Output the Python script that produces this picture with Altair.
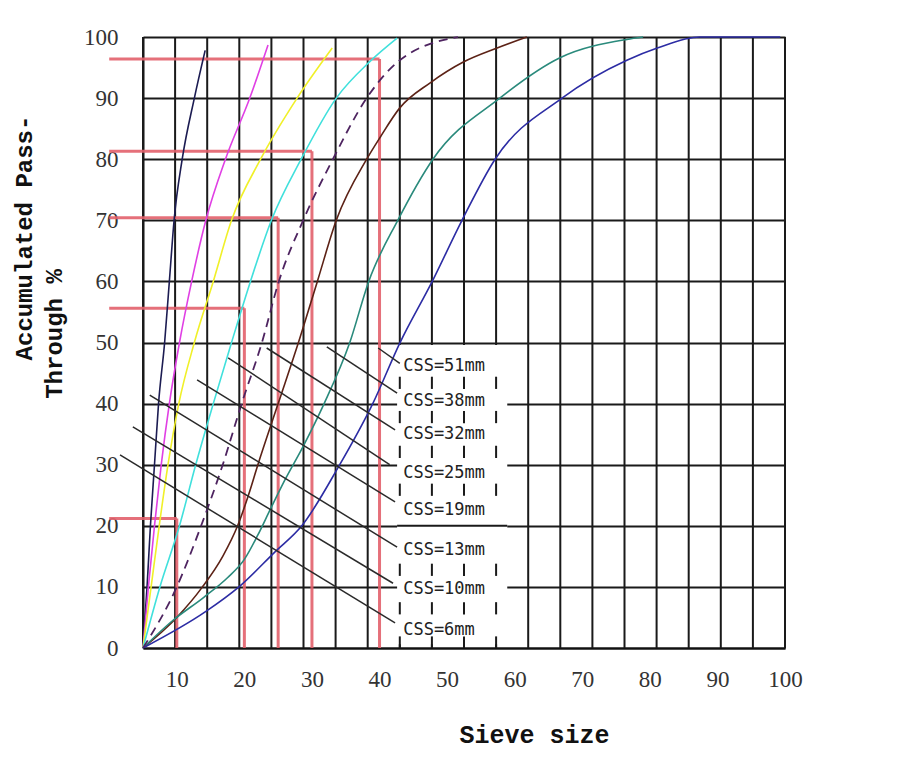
import altair as alt
import pandas as pd

# ---------------- data ----------------
X_TICKS = [10, 20, 30, 40, 50, 60, 70, 80, 90, 100]
Y_TICKS = [0, 10, 20, 30, 40, 50, 60, 70, 80, 90, 100]
GRID_X = [5, 9.75, 14.5, 19.25, 24, 28.75, 33.5, 38.25, 43, 47.75, 52.5,
          57.25, 62, 66.75, 71.5, 76.25, 81, 85.75, 90.5, 95.25, 100]

SERIES = ["CSS=6mm", "CSS=10mm", "CSS=13mm", "CSS=19mm", "CSS=25mm",
          "CSS=32mm", "CSS=38mm", "CSS=51mm"]
COLORS = ["#1c1c52", "#e040e4", "#f0f028", "#40e0dc", "#4e2460",
          "#5c2216", "#2a8a7c", "#2c2ca4"]

CSS6_X = [5, 5.6, 6.1, 6.7, 7.3, 8.2, 8.9, 9.6, 10.8, 12.6, 14.2]
CSS6_Y = [0, 10, 20, 30, 40, 50, 60, 70, 80, 90, 97.8]
CSS10_X = [5, 5.8, 6.7, 7.7, 8.9, 10.4, 12.2, 14.3, 17.2, 20.8, 23.5]
CSS10_Y = [0, 10, 20, 30, 40, 50, 60, 70, 80, 90, 98.7]
CSS13_X = [5, 6.2, 7.4, 8.7, 10.3, 12.6, 15.4, 18.1, 22.4, 27.8, 33.0]
CSS13_Y = [0, 10, 20, 30, 40, 50, 60, 70, 80, 90, 98.2]
CSS19_X = [5, 7.5, 10.4, 12.8, 15.4, 18.1, 20.9, 24.0, 28.4, 33.6, 38.6, 42.6]
CSS19_Y = [0, 10, 20, 30, 40, 50, 60, 70, 80, 90, 96, 99.8]
CSS25_X = [5, 10.0, 13.6, 16.8, 19.6, 22.6, 25.1, 28.7, 33.1, 38.1, 43.0, 51.6]
CSS25_Y = [0, 10, 20, 30, 40, 50, 60, 70, 80, 90, 96.2, 100]
CSS32_X = [5, 10.0, 13.8, 16.8, 19.0, 20.6, 22.0, 25.0, 28.0, 30.8, 33.6,
           38.1, 40.1, 43.0, 47.5, 52.4, 57.4, 61.8]
CSS32_Y = [0, 5, 10, 15, 20, 25, 30, 40, 50, 60, 70,
           80, 83.6, 88.4, 92.5, 95.9, 98.2, 100]
CSS38_X = [5, 9.4, 14.0, 17.5, 20.0, 22.0, 23.8, 26.0, 28.7, 31.8, 35.6,
           38.4, 42.7, 47.9, 57.8, 66.7, 76.6, 79.0]
CSS38_Y = [0, 4.5, 8.3, 11.5, 14.5, 18.5, 22.6, 27.5, 33, 40, 50,
           60, 70, 80, 90, 96.6, 99.6, 100]
CSS51_X = [5, 14.2, 19.2, 24.5, 28.5, 33.9, 39.0, 43.0, 47.8, 52.2, 57.1, 67.0, 76.6, 81.1, 87.4, 99.3]
CSS51_Y = [0, 5.9, 10, 15.7, 20, 29.6, 40, 49.9, 60, 70, 80, 90, 96.2, 98.2, 100, 100]

CURVES_X = [CSS6_X, CSS10_X, CSS13_X, CSS19_X, CSS25_X, CSS32_X, CSS38_X, CSS51_X]
CURVES_Y = [CSS6_Y, CSS10_Y, CSS13_Y, CSS19_Y, CSS25_Y, CSS32_Y, CSS38_Y, CSS51_Y]

# red reference L-lines (sieve size, pass-through)
RED_X = [10, 20, 25, 30, 40]
RED_Y = [21.2, 55.6, 70.4, 81.3, 96.4]

# leader lines of the labels
LEAD_X1 = [39.8, 32.2, 23.3, 17.6, 13.0, 6.0, 3.5, 1.6]
LEAD_Y1 = [49.1, 49.3, 49.1, 47.5, 43.9, 41.4, 36.2, 31.6]
LEAD_X2 = [43.0, 42.6, 42.3, 41.5, 42.3, 42.6, 42.0, 42.3]
LEAD_Y2 = [46.6, 41.7, 35.7, 30.0, 23.9, 16.5, 10.6, 4.1]
LABELS = ["CSS=51mm", "CSS=38mm", "CSS=32mm", "CSS=25mm",
          "CSS=19mm", "CSS=13mm", "CSS=10mm", "CSS=6mm"]
LABEL_X = [43.5] * 8
LABEL_Y = [46.2, 40.5, 35.1, 28.6, 22.6, 16.0, 9.6, 2.9]

BOX_X = [42.6, 58.9]
BOX_Y = [0.6, 49.6]
BOX_GRID_X = [43, 47.75, 52.5, 57.25]
BOX_DASH_Y = [43.4, 37.8, 32.1, 25.9, 12.8, 6.5, 0.9]

Y_TITLE_1 = "Accumulated Pass-"
Y_TITLE_2 = "Through  %"
X_TITLE = "Sieve size"

# ---------------- frames ----------------
rows = []
for name, xs, ys in zip(SERIES, CURVES_X, CURVES_Y):
    for i, (xv, yv) in enumerate(zip(xs, ys)):
        rows.append({"series": name, "x": xv, "y": yv, "i": i})
curves = pd.DataFrame(rows)

dash_rows = []
for gx in BOX_GRID_X:
    for dy in BOX_DASH_Y:
        dash_rows.append({"x": gx, "y0": max(dy - 1.0, 0), "y1": dy + 1.0})
dashes = pd.DataFrame(dash_rows)

xscale = alt.Scale(domain=[5, 100], nice=False, zero=False)
yscale = alt.Scale(domain=[0, 100], nice=False, zero=False)

xaxis = alt.Axis(values=X_TICKS, grid=False, ticks=False, domain=True,
                 domainColor="#111", domainWidth=2, labelFlush=False,
                 labelOverlap=False, labelFont="Liberation Serif",
                 labelFontSize=23, labelColor="#333", labelPadding=20,
                 title=X_TITLE, titleFont="Liberation Mono", titleFontSize=25,
                 titleFontWeight="bold", titleColor="#111", titleX=391, titleY=94,
                 titleAlign="center", titleBaseline="alphabetic")
yaxis = alt.Axis(values=Y_TICKS, grid=True, gridColor="#1a1a1a", gridWidth=2,
                 gridOpacity=1, ticks=False, domain=True, domainColor="#111",
                 domainWidth=2, labelFlush=False, labelFont="Liberation Serif",
                 labelFontSize=23, labelColor="#333", labelPadding=25, title=None)

vgrid = alt.Chart(pd.DataFrame({"x": GRID_X, "y0": [0] * len(GRID_X),
                                "y1": [100] * len(GRID_X)})).mark_rule(
    color="#1a1a1a", strokeWidth=2).encode(
    x=alt.X("x:Q", scale=xscale, axis=xaxis),
    y=alt.Y("y0:Q", scale=yscale, axis=yaxis),
    y2="y1:Q")

box = alt.Chart(pd.DataFrame({"x0": [BOX_X[0]], "x1": [BOX_X[1]],
                              "y0": [BOX_Y[0]], "y1": [BOX_Y[1]]})).mark_rect(
    color="white").encode(x="x0:Q", x2="x1:Q", y="y0:Q", y2="y1:Q")

box_dash = alt.Chart(dashes).mark_rule(color="#1a1a1a", strokeWidth=2).encode(
    x="x:Q", y="y0:Q", y2="y1:Q")

box_line20 = alt.Chart(pd.DataFrame({"x0": [BOX_X[0]], "x1": [BOX_X[1]],
                                     "y": [20]})).mark_rule(
    color="#1a1a1a", strokeWidth=2).encode(x="x0:Q", x2="x1:Q", y="y:Q")

red_h = alt.Chart(pd.DataFrame({"x0": [0] * len(RED_X), "x1": RED_X, "y": RED_Y})).mark_rule(
    color="#e2606c", strokeWidth=3, opacity=0.9).encode(x="x0:Q", x2="x1:Q", y="y:Q")
red_v = alt.Chart(pd.DataFrame({"x": RED_X, "y0": [0] * len(RED_X), "y1": RED_Y})).mark_rule(
    color="#e2606c", strokeWidth=3, opacity=0.9).encode(x="x:Q", y="y0:Q", y2="y1:Q")

color_enc = alt.Color("series:N", scale=alt.Scale(domain=SERIES, range=COLORS), legend=None)

solid_lines = alt.Chart(curves[curves.series != "CSS=25mm"]).mark_line(
    strokeWidth=1.6, interpolate="monotone").encode(
    x="x:Q", y="y:Q", color=color_enc, order="i:Q", detail="series:N")
dashed_line = alt.Chart(curves[curves.series == "CSS=25mm"]).mark_line(
    strokeWidth=1.8, strokeDash=[9, 6], interpolate="monotone").encode(
    x="x:Q", y="y:Q", color=color_enc, order="i:Q")

leaders = alt.Chart(pd.DataFrame({"x1": LEAD_X1, "y1": LEAD_Y1,
                                  "x2": LEAD_X2, "y2": LEAD_Y2})).mark_rule(
    color="#2a2a2a", strokeWidth=1.5).encode(x="x1:Q", y="y1:Q", x2="x2:Q", y2="y2:Q")

labels = alt.Chart(pd.DataFrame({"x": LABEL_X, "y": LABEL_Y, "t": LABELS})).mark_text(
    align="left", baseline="middle", font="DejaVu Sans Mono", fontSize=17,
    color="#222").encode(x="x:Q", y="y:Q", text="t:N")

ytitle1 = alt.Chart(pd.DataFrame({"t": [Y_TITLE_1]})).mark_text(
    angle=270, align="center", baseline="middle", font="Liberation Mono",
    fontSize=24, fontWeight="bold", color="#111").encode(
    text="t:N", x=alt.value(-118), y=alt.value(201))
ytitle2 = alt.Chart(pd.DataFrame({"t": [Y_TITLE_2]})).mark_text(
    angle=270, align="center", baseline="middle", font="Liberation Mono",
    fontSize=24, fontWeight="bold", color="#111").encode(
    text="t:N", x=alt.value(-88), y=alt.value(297))

chart = alt.layer(
    vgrid, box, box_dash, box_line20, red_h, red_v, solid_lines, dashed_line,
    leaders, labels, ytitle1, ytitle2
).properties(
    width=642, height=611,
    padding={"left": 135, "top": 29, "right": 100, "bottom": 105},
    autosize=alt.AutoSizeParams(type="none"),
).configure_view(stroke=None).configure(background="white")

chart.save("out.html", embed_options={"renderer": "svg", "actions": False})
